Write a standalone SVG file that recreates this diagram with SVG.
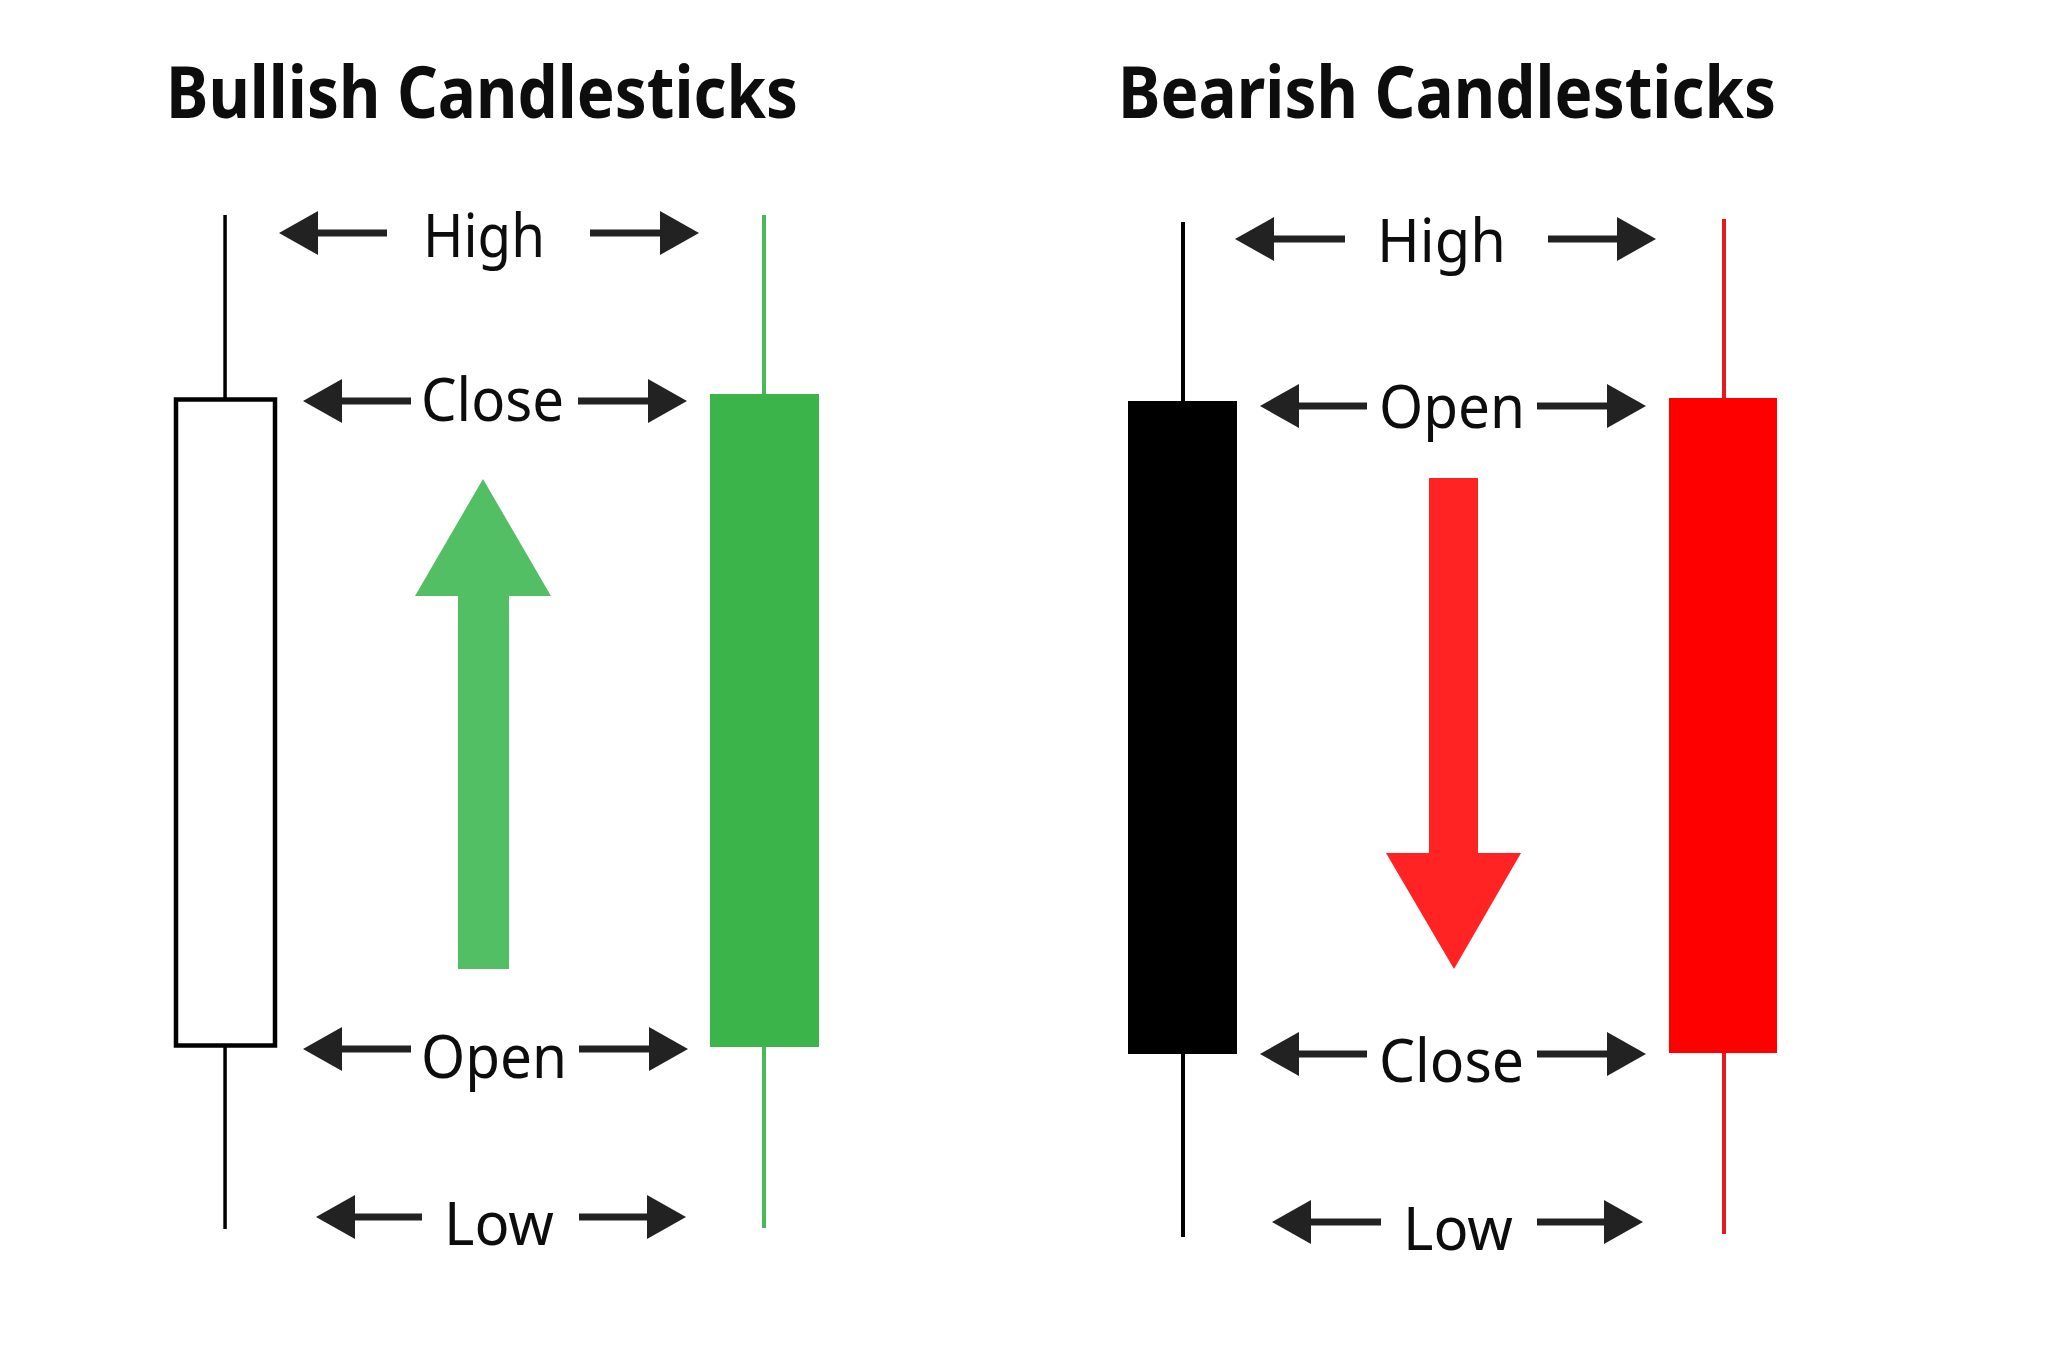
<svg xmlns="http://www.w3.org/2000/svg" width="2048" height="1357" viewBox="0 0 2048 1357">
<defs>
<marker id="head" viewBox="0 0 39 44" refX="0" refY="22" markerWidth="39" markerHeight="44" markerUnits="userSpaceOnUse" orient="auto">
<path d="M0 0 L39 22 L0 44 Z" fill="#222222"/>
</marker>
<style>
.title{font-family:"Noto Sans","Open Sans","DejaVu Sans",sans-serif;font-weight:bold;font-size:71px;fill:#0d0d0d}
.lbl{font-family:"Noto Sans","Open Sans","DejaVu Sans",sans-serif;font-size:61px;fill:#0d0d0d}
.shaft{stroke:#222222;stroke-width:7;fill:none;marker-end:url(#head)}
</style>
</defs>
<rect width="2048" height="1357" fill="#ffffff"/>

<text class="title" x="166" y="118" textLength="632" lengthAdjust="spacingAndGlyphs">Bullish Candlesticks</text>
<text class="title" x="1118" y="118" textLength="658" lengthAdjust="spacingAndGlyphs">Bearish Candlesticks</text>

<g id="bull-hollow">
<rect x="223.3" y="215" width="3.5" height="183" fill="#000"/>
<rect x="223.3" y="1046" width="3.5" height="183" fill="#000"/>
<rect x="176" y="399.5" width="99" height="646" fill="#fff" stroke="#000" stroke-width="4.5"/>
</g>
<g id="bull-green">
<rect x="762" y="215" width="4" height="180" fill="#4cb85c"/>
<rect x="762" y="1046" width="4" height="182" fill="#4cb85c"/>
<rect x="710" y="394" width="109" height="653" fill="#3bb54a"/>
</g>
<g id="up-arrow">
<path d="M483 479 L551 596 L509 596 L509 969 L458 969 L458 596 L415 596 Z" fill="#52bf64"/>
</g>

<g id="bear-black">
<rect x="1181" y="222" width="4" height="180" fill="#000"/>
<rect x="1181" y="1053" width="4" height="184" fill="#000"/>
<rect x="1128" y="401" width="109" height="653" fill="#000"/>
</g>
<g id="bear-red">
<rect x="1722" y="219" width="4" height="180" fill="#e31b1f"/>
<rect x="1722" y="1052" width="4" height="182" fill="#e31b1f"/>
<rect x="1669" y="398" width="108" height="655" fill="#ff0000"/>
</g>
<g id="down-arrow">
<path d="M1429 478 L1478 478 L1478 853 L1521 853 L1454 969 L1386 853 L1429 853 Z" fill="#ff2323"/>
</g>

<g id="labels">
<text class="lbl" x="423" y="257" textLength="122" lengthAdjust="spacingAndGlyphs">High</text>
<text class="lbl" x="421" y="421" textLength="143" lengthAdjust="spacingAndGlyphs">Close</text>
<text class="lbl" x="421" y="1078" textLength="146" lengthAdjust="spacingAndGlyphs">Open</text>
<text class="lbl" x="444" y="1245" textLength="110" lengthAdjust="spacingAndGlyphs">Low</text>
<text class="lbl" x="1377" y="262" textLength="129" lengthAdjust="spacingAndGlyphs">High</text>
<text class="lbl" x="1379" y="428" textLength="146" lengthAdjust="spacingAndGlyphs">Open</text>
<text class="lbl" x="1379" y="1082" textLength="145" lengthAdjust="spacingAndGlyphs">Close</text>
<text class="lbl" x="1403" y="1250" textLength="110" lengthAdjust="spacingAndGlyphs">Low</text>
</g>

<g id="connectors">
<line class="shaft" x1="387" y1="233" x2="318" y2="233"/>
<line class="shaft" x1="590" y1="233" x2="660" y2="233"/>
<line class="shaft" x1="411" y1="401" x2="342" y2="401"/>
<line class="shaft" x1="578" y1="401" x2="648" y2="401"/>
<line class="shaft" x1="411" y1="1049" x2="342" y2="1049"/>
<line class="shaft" x1="579" y1="1049" x2="649" y2="1049"/>
<line class="shaft" x1="422" y1="1217" x2="355" y2="1217"/>
<line class="shaft" x1="579" y1="1217" x2="647" y2="1217"/>
<line class="shaft" x1="1345" y1="239" x2="1274" y2="239"/>
<line class="shaft" x1="1548" y1="239" x2="1617" y2="239"/>
<line class="shaft" x1="1367" y1="406" x2="1299" y2="406"/>
<line class="shaft" x1="1537" y1="406" x2="1607" y2="406"/>
<line class="shaft" x1="1367" y1="1054" x2="1299" y2="1054"/>
<line class="shaft" x1="1537" y1="1054" x2="1607" y2="1054"/>
<line class="shaft" x1="1381" y1="1222" x2="1311" y2="1222"/>
<line class="shaft" x1="1537" y1="1222" x2="1604" y2="1222"/>
</g>
</svg>
